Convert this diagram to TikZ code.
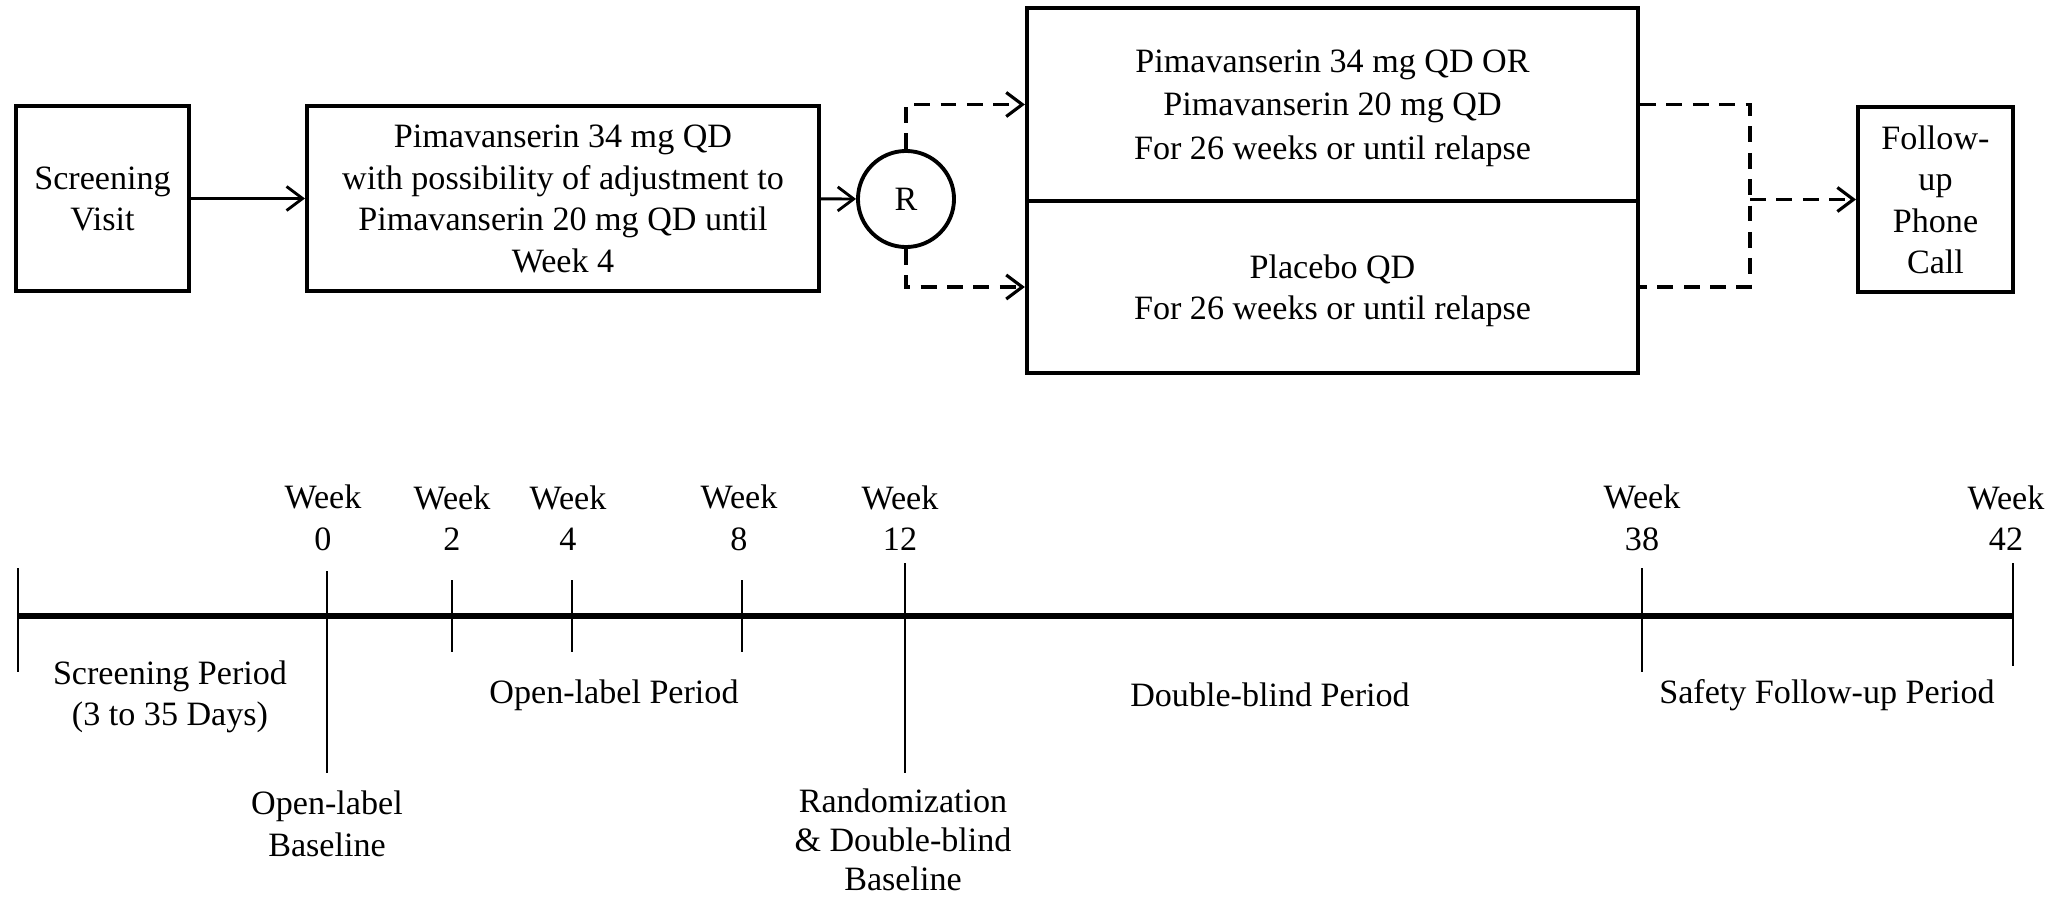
\documentclass[tikz,border=0pt]{standalone}
\usepackage{fontspec}
\setmainfont{Liberation Serif}
\usetikzlibrary{arrows.meta,positioning,calc}
\tikzset{
  stage/.style={
    draw,
    line width=1.1pt,
    align=center,
    text depth=0pt,
    inner sep=0pt
  },
  rand/.style={
    draw,
    shape=circle,
    line width=1.1pt,
    minimum size=0.96cm,
    inner sep=0pt
  },
  flow/.style={
    line width=0.8pt
  },
  dflow/.style={
    line width=0.9pt,
    dash pattern=on 4.5pt off 3pt
  },
  barb/.style={
    -{Straight Barb[length=1.6mm,width=2.4mm]}
  },
}
\tikzset{
  every picture/.style={
    font=\fontsize{9.7}{11.8}\selectfont
  },
  tick/.style={
    line width=0.6pt
  },
  week/.style={
    align=center,
    inner sep=0pt
  }
}

\begin{document}
\begin{tikzpicture}[x=0.01cm,y=-0.01cm]
  \useasboundingbox (0,0) rectangle (2059,900);
  % flow chart
  \node[stage,minimum width=1.73cm,minimum height=1.85cm] (screen) at (102.5,198.5) {Screening\\Visit};
  \node[stage,minimum width=5.12cm,minimum height=1.85cm] (olbox) at (563,198.5)
    {Pimavanserin 34 mg QD\\with possibility of adjustment to\\Pimavanserin 20 mg QD until\\Week 4};
  \node[rand] (R) at (906,199) {R};
  \node[stage,minimum width=6.11cm,minimum height=1.93cm,font=\fontsize{9.7}{12.3}\selectfont] (dbtop) at (1332.5,104.5)
    {Pimavanserin 34 mg QD OR\\Pimavanserin 20 mg QD\\For 26 weeks or until relapse};
  \node[stage,minimum width=6.11cm,minimum height=1.72cm] (dbbot) at (1332.5,287)
    {Placebo QD\\For 26 weeks or until relapse};
  \node[stage,minimum width=1.55cm,minimum height=1.85cm] (fu) at (1935.5,199.5) {Follow-\\up\\Phone\\Call};
  \coordinate (jn) at (1750,199.5);

  \draw[flow,barb] (screen) -- (olbox);
  \draw[flow,barb] (olbox) -- (R);
  \draw[dflow,barb] (R.north) |- (dbtop.west);
  \draw[dflow,barb] (R.south) |- (dbbot.west);
  \draw[dflow] (dbtop.east) -| (jn) |- (dbbot.east);
  \draw[dflow,barb] (jn) -- (fu);

  % time line
  \draw[line width=1.5pt] (18,616) coordinate (tl0) -- (2013,616) coordinate (tl1);
  \foreach \x/\a/\b in {18/568/672, 327/571/773, 452/580/652, 572/580/652,
                        742/580/652, 905/563/773, 1642/568/672, 2013/563/666}{
    \draw[tick] (\x,\a) -- (\x,\b);
  }
  \foreach \x/\wk in {323/0, 452/2, 568/4, 739/8, 900/12, 1642/38, 2006/42}{
    \node[week] (w\wk) at (\x,518) {Week\\\wk};
  }
  \node[week] (pscr) at (170,697) {Screening Period\\(3 to 35 Days)};
  \node[week] (pol) at (614,695) {Open-label Period};
  \node[week] (pdb) at (1270,695) {Double-blind Period};
  \node[week] (psf) at (1827,695) {Safety Follow-up Period};
  \node[week] (bol) at (327,824) {Open-label\\Baseline};
  \node[week,font=\fontsize{9.7}{11}\selectfont] (bdb) at (903,840) {Randomization\\\& Double-blind\\Baseline};
\end{tikzpicture}
\end{document}
